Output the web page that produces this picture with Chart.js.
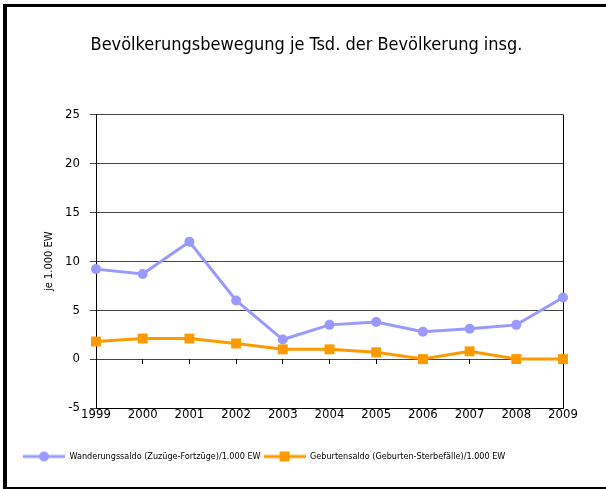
<!DOCTYPE html>
<html>
<head>
<meta charset="utf-8">
<script src="https://cdn.jsdelivr.net/npm/chart.js@4.4.1/dist/chart.umd.min.js"></script>
<style>
  body { margin: 0; background: #fff; }
  #frame {
    position: absolute; left: 3px; top: 4px; width: 603px; height: 485px;
    box-sizing: border-box;
    border-left: 4px solid #000; border-top: 3px solid #000; border-bottom: 2px solid #000;
  }
  #wrap { position: relative; width: 599px; height: 480px; }
</style>
</head>
<body>
<div id="frame"><div id="wrap"><canvas id="lineChart"></canvas></div></div>
<script>
// values
var years = ['1999', '2000', '2001', '2002', '2003', '2004', '2005', '2006', '2007', '2008', '2009'];
var wanderung = [9.2, 8.7, 12.0, 6.0, 2.0, 3.5, 3.8, 2.8, 3.1, 3.5, 6.3];
var geburten = [1.8, 2.1, 2.1, 1.6, 1.0, 1.0, 0.7, 0.0, 0.8, 0.0, 0.0];
var seriesNames = ['Wanderungssaldo (Zuzüge-Fortzüge)/1.000 EW', 'Geburtensaldo (Geburten-Sterbefälle)/1.000 EW'];
var yTicks = [-5, 0, 5, 10, 15, 20, 25];

var blue = '#9999FF';
var orange = '#FF9900';
var fam = "'Liberation Sans Narrow', 'Arial Narrow', 'DejaVu Sans Condensed', sans-serif";

// small line+marker pictures for the legend
function legendIcon(color, shape) {
    var c = document.createElement('canvas');
    c.width = 42; c.height = 12;
    var g = c.getContext('2d');
    g.strokeStyle = color; g.lineWidth = 3;
    g.beginPath(); g.moveTo(0, 6); g.lineTo(42, 6); g.stroke();
    g.fillStyle = color;
    if (shape === 'circle') {
        g.beginPath(); g.arc(21, 6, 5, 0, Math.PI * 2); g.fill();
    } else {
        g.fillRect(16, 1, 10, 10);
    }
    return c;
}
var icons = [legendIcon(blue, 'circle'), legendIcon(orange, 'rect')];

Chart.defaults.font.family = fam;
Chart.defaults.color = '#000';

var ctx = document.getElementById('lineChart');
var chart = new Chart(ctx, {
    type: 'line',
    data: {
        labels: years,
        datasets: [{
            label: seriesNames[0],
            data: wanderung,
            borderColor: blue,
            backgroundColor: blue,
            borderWidth: 3,
            pointStyle: 'circle',
            pointRadius: 5,
            pointBorderWidth: 0,
            pointHoverRadius: 5,
            clip: false
        }, {
            label: seriesNames[1],
            data: geburten,
            borderColor: orange,
            backgroundColor: orange,
            borderWidth: 3,
            pointStyle: 'rect',
            pointRadius: 7,
            pointBorderWidth: 0,
            pointHoverRadius: 7,
            clip: false
        }]
    },
    options: {
        responsive: true,
        maintainAspectRatio: false,
        animation: false,
        layout: { padding: { left: 0, right: 0, top: 0, bottom: 16 } },
        scales: {
            y: {
                min: -5, max: 25,
                afterFit: function (s) { s.width = 89; },
                afterBuildTicks: function (s) { s.ticks = yTicks.map(function (v) { return { value: v }; }); },
                ticks: { font: { size: 13 }, padding: 10, color: '#000' },
                grid: { color: '#444', tickLength: 6, drawTicks: true },
                border: { color: '#000' },
                title: { display: true, text: 'je 1.000 EW', font: { size: 11 }, padding: { top: 36, bottom: 0 } }
            },
            // empty space on the right side of the plot
            yRight: {
                type: 'linear',
                position: 'right',
                afterFit: function (s) { s.width = 43; },
                ticks: { display: false },
                grid: { display: false },
                border: { display: false }
            },
            x: {
                afterFit: function (s) { s.height = 41; },
                ticks: { font: { size: 13, lineHeight: 1 }, padding: 0, color: '#000', maxRotation: 0, autoSkip: false },
                grid: {
                    drawTicks: false,
                    color: function (c) { return c.index === years.length - 1 ? '#000' : 'rgba(0,0,0,0)'; }
                },
                border: { color: '#000' }
            },
            xTicks: {
                type: 'category',
                axis: 'x',
                position: { y: 0 },
                ticks: { display: false },
                grid: { drawOnChartArea: false, drawTicks: true, tickLength: 5, color: '#000' },
                border: { display: false }
            }
        },
        plugins: {
            title: {
                display: true,
                text: 'Bevölkerungsbewegung je Tsd. der Bevölkerung insg.',
                font: { size: 18, weight: 'normal' },
                color: '#000',
                padding: { top: 28, bottom: 58 }
            },
            legend: {
                position: 'bottom',
                align: 'start',
                labels: {
                    font: { size: 9 },
                    color: '#000',
                    usePointStyle: true,
                    pointStyleWidth: 42,
                    padding: 3,
                    generateLabels: function (ch) {
                        return ch.data.datasets.map(function (ds, i) {
                            return { text: ds.label, pointStyle: icons[i], datasetIndex: i, fontColor: '#000', lineWidth: 0, strokeStyle: 'rgba(0,0,0,0)', fillStyle: 'rgba(0,0,0,0)' };
                        });
                    }
                }
            },
            tooltip: { enabled: false }
        }
    },
    plugins: [{
        id: 'legendShift',
        afterLayout: function (ch) { ch.legend.left += 13; }
    }]
});
</script>
</body>
</html>
